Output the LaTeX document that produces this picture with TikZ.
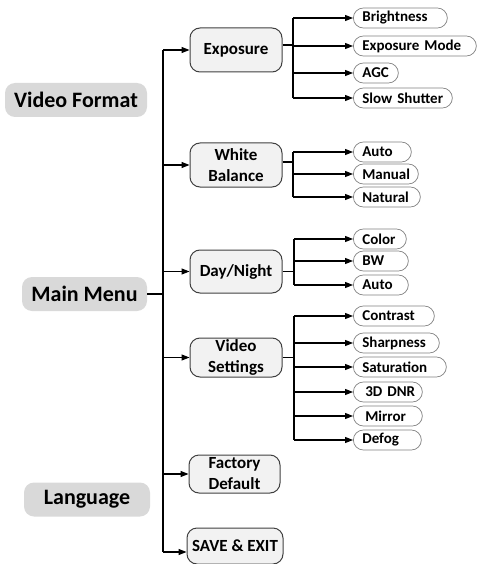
\documentclass[tikz,border=0pt]{standalone}
\usepackage{fontspec}
\setmainfont{Carlito}
\usetikzlibrary{arrows.meta}
\definecolor{mgray}{HTML}{D9D9D9}
\definecolor{subfill}{HTML}{F2F2F2}
\definecolor{subborder}{HTML}{404040}
\definecolor{leafborder}{HTML}{808080}
\begin{document}
\begin{tikzpicture}[x=1pt,y=-1pt,
 mainbox/.style={fill=mgray, rounded corners=10pt, font=\fontsize{22}{26}\selectfont\bfseries, minimum height=34pt, inner sep=0pt},
 subbox/.style={draw=subborder, line width=1pt, fill=subfill, rounded corners=10pt, font=\fontsize{17}{21}\selectfont\bfseries, align=center, minimum width=92pt, inner sep=0pt},
 leaf/.style={draw=leafborder, line width=0.7pt, fill=white, rounded corners=10pt, font=\fontsize{15}{17}\selectfont\bfseries, anchor=west, minimum height=20pt, inner xsep=9pt, inner ysep=0pt, align=left},
 conn/.style={line width=1.1pt, black},
 arr/.style={conn, -{Triangle[length=8pt,width=6pt]}}]
\useasboundingbox (0,0) rectangle (477,564);

% left column
\node[mainbox, minimum width=142pt] (vf) at (76,100) {Video Format};
\node[mainbox, minimum width=125pt] (mm) at (84.5,294) {Main Menu};
\node[mainbox, minimum width=126pt] (lg) at (87,499.5) {Language};

% second column
\node[subbox, minimum height=44pt] (exp) at (236,50) {Exposure};
\node[subbox, minimum height=44pt] (wb) at (236,165) {White\\Balance};
\node[subbox, minimum height=43pt] (dn) at (236,271.5) {Day/Night};
\node[subbox, minimum height=39pt] (vs) at (236,357.5) {Video\\Settings};
\node[subbox, minimum height=38pt, minimum width=91pt] (fd) at (234.5,474) {Factory\\Default};
\node[subbox, minimum height=36pt, minimum width=96pt] (sv) at (235,546) {SAVE \& EXIT};

% leaves: exposure
\node[leaf, text width=76pt] (e1) at (353,18) {\mbox{Brightness}};
\node[leaf, text width=105pt] (e2) at (353,46) {\mbox{Exposure Mode}};
\node[leaf, text width=27pt] (e3) at (353,73) {\mbox{AGC}};
\node[leaf, text width=81pt] (e4) at (353,98) {\mbox{Slow Shutter}};
% white balance
\node[leaf, text width=40pt] (w1) at (353,152) {\mbox{Auto}};
\node[leaf, text width=47pt] (w2) at (353,174) {\mbox{Manual}};
\node[leaf, text width=49pt] (w3) at (353,197) {\mbox{Natural}};
% day/night
\node[leaf, text width=35pt] (d1) at (353,239) {\mbox{Color}};
\node[leaf, text width=37pt] (d2) at (353,261) {\mbox{BW}};
\node[leaf, text width=37pt] (d3) at (353,285) {\mbox{Auto}};
% video settings
\node[leaf, text width=63pt] (v1) at (353,316) {\mbox{Contrast}};
\node[leaf, text width=68pt] (v2) at (353,343) {\mbox{Sharpness}};
\node[leaf, text width=75pt] (v3) at (353,367) {\mbox{Saturation}};
\node[leaf, text width=51pt] (v4) at (353,392) {\mbox{\hspace{3pt}3D DNR}};
\node[leaf, text width=51pt] (v5) at (353,416) {\mbox{\hspace{3pt}Mirror}};
\node[leaf, text width=50pt] (v6) at (353,440) {\mbox{Defog}};

% trunk
\coordinate (T) at (163,294);
\coordinate (Ttop) at (163,50);
\coordinate (Tbot) at (163,552);
\draw[conn] (mm.east) -- (T);
\draw[conn] (Ttop) -- (Tbot);
\draw[arr] (Ttop) -- (exp.west);
\draw[arr] (T |- wb.west) -- (wb.west);
\draw[arr] (T |- dn.west) -- (dn.west);
\draw[arr] (T |- vs.west) -- (vs.west);
\draw[arr] (T |- fd.west) -- (fd.west);
\draw[arr] (Tbot) -- (Tbot -| sv.west);

% exposure bracket
\coordinate (BE) at (293,45);
\draw[conn] ([yshift=5pt]exp.east) -- (BE);
\draw[conn] (BE |- e1.west) -- (BE |- e4.west);
\foreach \n in {e1,e2,e3,e4} \draw[arr] (BE |- \n.west) -- (\n.west);

% white balance bracket
\coordinate (BW) at (293,162);
\draw[conn] ([yshift=3pt]wb.east) -- (BW);
\draw[conn] (BW |- w1.west) -- (BW |- w3.west);
\foreach \n in {w1,w2,w3} \draw[arr] (BW |- \n.west) -- (\n.west);

% day/night bracket
\coordinate (BD) at (294,271.5);
\draw[conn] (dn.east) -- (BD);
\draw[conn] (BD |- d1.west) -- (BD |- d3.west);
\foreach \n in {d1,d2,d3} \draw[arr] (BD |- \n.west) -- (\n.west);

% video settings bracket
\coordinate (BV) at (294,357.5);
\draw[conn] (vs.east) -- (BV);
\draw[conn] (BV |- v1.west) -- (BV |- v6.west);
\foreach \n in {v1,v2,v3,v4,v5,v6} \draw[arr] (BV |- \n.west) -- (\n.west);
\end{tikzpicture}
\end{document}
